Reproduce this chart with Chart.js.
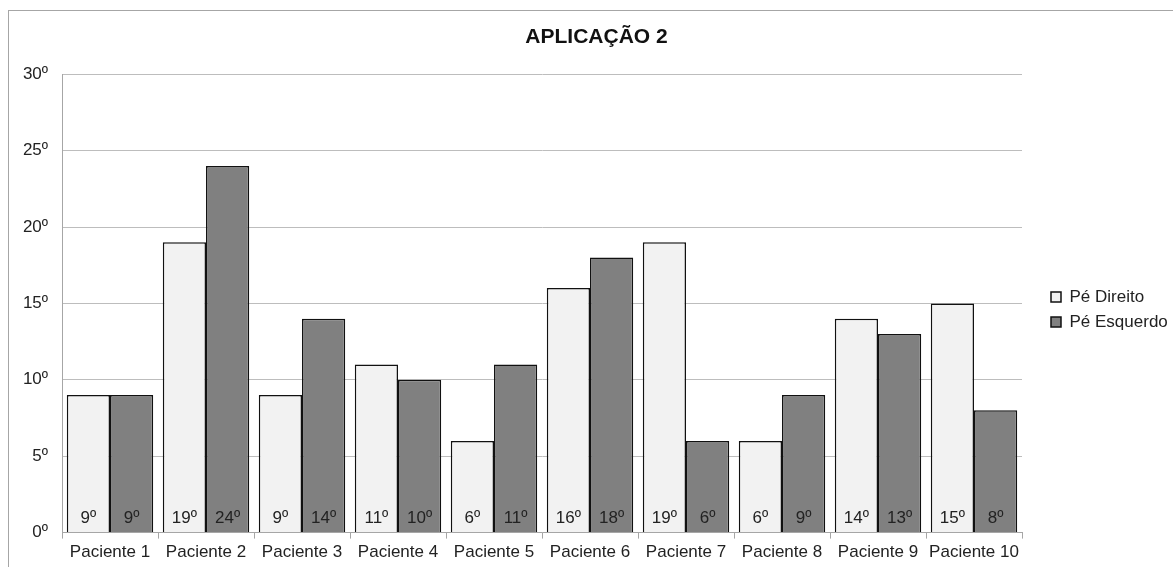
<!DOCTYPE html>
<html>
<head>
<meta charset="utf-8">
<script src="https://cdn.jsdelivr.net/npm/chart.js@4.4.1/dist/chart.umd.min.js"></script>
<style>
  html, body { margin: 0; padding: 0; background: #fff; }
  #wrap { position: relative; width: 1173px; height: 567px; }
  #frame { position: absolute; left: 8px; top: 10px; right: 0; bottom: 0;
           border-left: 1px solid #a6a6a6; border-top: 1px solid #a6a6a6; pointer-events: none; }
</style>
</head>
<body>
<div id="wrap">
  <canvas id="c" width="1173" height="567"></canvas>
  <div id="frame"></div>
</div>
<script>
const categories = ['Paciente 1','Paciente 2','Paciente 3','Paciente 4','Paciente 5','Paciente 6','Paciente 7','Paciente 8','Paciente 9','Paciente 10'];
const peDireito  = [9, 19, 9, 11, 6, 16, 19, 6, 14, 15];
const peEsquerdo = [9, 24, 14, 10, 11, 18, 6, 9, 13, 8];
const yTicks = [0, 5, 10, 15, 20, 25, 30];
const seriesNames = ['Pé Direito', 'Pé Esquerdo'];
const titleText = 'APLICAÇÃO 2';

const FONT = "'Liberation Sans', Arial, sans-serif";

const valueLabels = {
  id: 'valueLabels',
  afterDatasetsDraw(chart) {
    const ctx = chart.ctx;
    ctx.save();
    ctx.font = '17px ' + FONT;
    ctx.fillStyle = '#222';
    ctx.textAlign = 'center';
    ctx.textBaseline = 'middle';
    chart.data.datasets.forEach((ds, i) => {
      const meta = chart.getDatasetMeta(i);
      meta.data.forEach((bar, j) => {
        ctx.fillText(ds.data[j] + 'º', bar.x, bar.base - 14);
      });
    });
    ctx.restore();
  }
};

// widen the legend box so the plot ends where the reference does, and nudge its items
function patchLegend(chart) {
  const lg = chart.legend;
  if (lg && !lg._patched) {
    const orig = lg.fit.bind(lg);
    lg.fit = function () { orig(); this.width = 151; };
    lg._patched = true;
  }
}
const legendPlacement = {
  id: 'legendPlacement',
  beforeInit: patchLegend,
  afterInit: patchLegend,
  afterLayout(chart) {
    const lg = chart.legend;
    if (lg) { lg.left += 21; lg.right += 21; lg.top += 26; lg.bottom += 26; }
  }
};

new Chart(document.getElementById('c'), {
  type: 'bar',
  data: {
    labels: categories,
    datasets: [
      { label: seriesNames[0], data: peDireito, backgroundColor: '#f2f2f2', borderColor: '#111', borderWidth: 1.5 },
      { label: seriesNames[1], data: peEsquerdo, backgroundColor: '#808080', borderColor: '#111', borderWidth: 1.5 }
    ]
  },
  options: {
    responsive: false,
    animation: false,
    devicePixelRatio: 1,
    layout: { padding: { left: 20, right: 0, top: 0, bottom: 0 } },
    datasets: { bar: { categoryPercentage: 0.9, barPercentage: 1.0 } },
    plugins: {
      title: {
        display: true, text: titleText, color: '#111',
        font: { family: FONT, size: 21, weight: 'bold' },
        padding: { top: 25, bottom: 24 }
      },
      legend: {
        position: 'right',
        labels: {
          color: '#222', font: { family: FONT, size: 17 },
          boxWidth: 10, boxHeight: 10, padding: 8
        }
      },
      tooltip: { enabled: false }
    },
    scales: {
      x: {
        offset: true,
        grid: { offset: true, drawOnChartArea: false, drawTicks: true, tickLength: 6, color: '#a6a6a6' },
        border: { display: true, color: '#a6a6a6' },
        ticks: { color: '#222', font: { family: FONT, size: 17 }, padding: 4, maxRotation: 0, autoSkip: false }
      },
      y: {
        min: 0, max: 30,
        afterBuildTicks(scale) { scale.ticks = yTicks.map(v => ({ value: v })); },
        afterFit(scale) { scale.width = 42; },
        grid: { color: '#bdbdbd', drawTicks: false, tickLength: 0 },
        border: { display: true, color: '#a6a6a6' },
        ticks: { color: '#222', font: { family: FONT, size: 17 }, padding: 14,
                 callback: v => v + 'º' }
      }
    }
  },
  plugins: [valueLabels, legendPlacement]
});
</script>
</body>
</html>
